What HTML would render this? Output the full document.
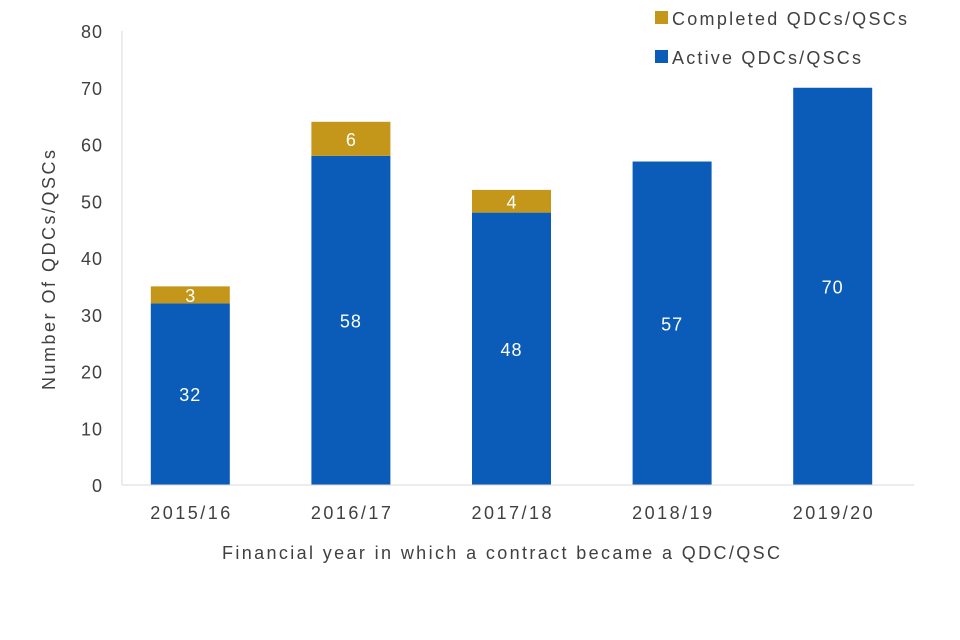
<!DOCTYPE html>
<html><head><meta charset="utf-8"><style>
body{margin:0;background:#fff;}
svg{display:block;font-family:"Liberation Sans",Arial,sans-serif;}
</style></head><body>
<svg id="chart" width="960" height="640" viewBox="0 0 960 640">
<g id="grid"></g>
<g id="bars"></g>
<g id="axes"></g>
<g>
<rect x="655" y="11" width="13" height="13" fill="#c4961a"/>
<text x="672" y="25" font-size="18" fill="#404040" textLength="235" lengthAdjust="spacing">Completed QDCs/QSCs</text>
<rect x="655" y="50" width="13" height="13" fill="#0a5cb8"/>
<text x="672" y="64" font-size="18" fill="#404040" textLength="189" lengthAdjust="spacing">Active QDCs/QSCs</text>
</g>
<text transform="translate(55,390) rotate(-90)" font-size="18" fill="#404040" textLength="240" lengthAdjust="spacing">Number Of QDCs/QSCs</text>
<text x="222" y="559" font-size="18" fill="#404040" textLength="558" lengthAdjust="spacing">Financial year in which a contract became a QDC/QSC</text>
</svg>
<script>
const categories=["2015/16","2016/17","2017/18","2018/19","2019/20"];
const active=[32,58,48,57,70];
const completed=[3,6,4,0,0];
const yTicks=[0,10,20,30,40,50,60,70,80];
const NS="http://www.w3.org/2000/svg";
const y0=485,yTop=31,yMax=80;
function y(v){return y0-(v/yMax)*(y0-yTop);}
const x0=110,band=160.6,bw=79;
function xc(i){return x0+band*(i+0.5);}
function mk(tag,attrs,parent){const e=document.createElementNS(NS,tag);for(const k in attrs)e.setAttribute(k,attrs[k]);parent.appendChild(e);return e;}
const axes=document.getElementById("axes"),bars=document.getElementById("bars");
const ax=mk("line",{x1:122,y1:yTop,x2:122,y2:y0,stroke:"#d9d9d9","stroke-width":1},axes);


const bx=mk("line",{x1:122,y1:y0,x2:914,y2:y0,stroke:"#d9d9d9","stroke-width":1},axes);


yTicks.forEach(t=>{
 const tx=mk("text",{x:103,y:y(t)+7,"text-anchor":"end","font-size":18,"letter-spacing":"1",fill:"#404040"},axes);
 tx.textContent=t;
 
 
});
categories.forEach((c,i)=>{
 const cx=xc(i);
 const tx=mk("text",{x:cx-40,y:519,"font-size":18,fill:"#404040",textLength:80,lengthAdjust:"spacing"},axes);
 tx.textContent=c;
 
 
 const ra=mk("rect",{x:cx-bw/2,y:y(active[i]),width:bw,height:y0-y(active[i]),fill:"#0a5cb8"},bars);
 
 
 const la=mk("text",{x:cx,y:(y(active[i])+y0)/2+7,"text-anchor":"middle","font-size":18,"letter-spacing":"1",fill:"#fff"},bars);
 la.textContent=active[i];
 
 
 if(completed[i]>0){
  const top=active[i]+completed[i];
  const rc=mk("rect",{x:cx-bw/2,y:y(top),width:bw,height:y(active[i])-y(top),fill:"#c4961a"},bars);
  
  
  const lc=mk("text",{x:cx,y:(y(top)+y(active[i]))/2+7,"text-anchor":"middle","font-size":18,fill:"#fff"},bars);
  lc.textContent=completed[i];
  
  
 }
});
</script>
</body></html>
